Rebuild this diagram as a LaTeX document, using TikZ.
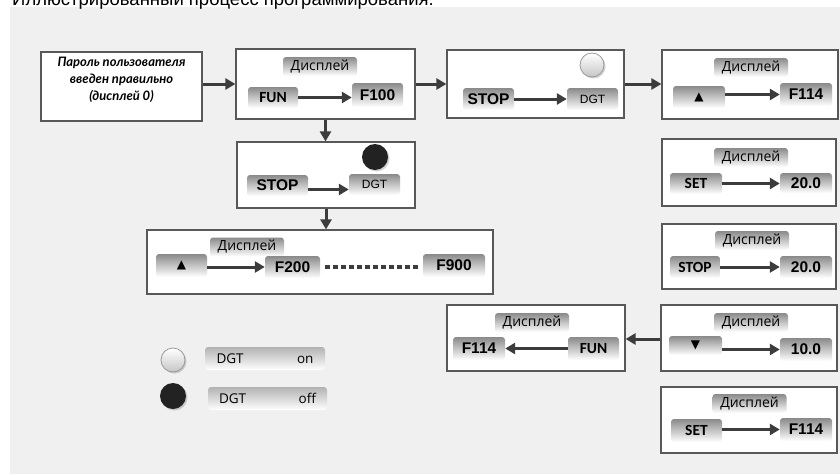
\documentclass[tikz,border=0pt]{standalone}
\usepackage{fontspec}
\setmainfont{Liberation Sans}
\newfontfamily\segoe{Open Sans}
\newfontfamily\calib{Carlito}
\newfontfamily\lato{Lato}
\newfontfamily\symb{DejaVu Sans}
\usetikzlibrary{arrows.meta,shadows}
\definecolor{panel}{HTML}{F0F0F0}
\definecolor{edge}{HTML}{585858}
\definecolor{ink}{HTML}{3C3C3C}
\definecolor{keytop}{HTML}{8A8A8A}
\definecolor{ledoff}{HTML}{222222}

\begin{document}
\begin{tikzpicture}[x=1pt, y=-1pt, >={Triangle[length=10pt,width=11pt]}]
	\tikzstyle{box} = [rectangle, draw=edge, line width=1.2pt, fill=white, inner sep=0pt]
	\tikzstyle{key} = [rectangle, rounded corners=3pt, top color=keytop, bottom color=white, minimum width=51pt, minimum height=22pt, inner sep=0pt, font=\bfseries\fontsize{15.5}{15.5}\selectfont]
	\tikzstyle{dispkey} = [key, minimum width=74pt, minimum height=19pt, font=\segoe\fontsize{14}{14}\selectfont]
	\tikzstyle{btnkey} = [key, font=\calib\bfseries\fontsize{15.5}{15.5}\selectfont]
	\tikzstyle{dgtkey} = [key, font=\fontsize{12}{12}\selectfont]
	\tikzstyle{arrkey} = [key, font=\symb\fontsize{12}{12}\selectfont]
	\tikzstyle{flow} = [->, draw=ink, line width=3pt]
	\tikzstyle{led} = [circle, inner sep=0pt, minimum size=24pt, drop shadow={shadow xshift=1.5pt, shadow yshift=-1.5pt, opacity=0.35}]
	\tikzstyle{ledon} = [led, draw=gray!80, line width=0.8pt, top color=white, bottom color=gray!45]
	\tikzstyle{ledoff} = [led, fill=ledoff, minimum size=26pt]
	\tikzstyle{legkey} = [key, top color=gray!60, minimum width=120pt, minimum height=23pt, text width=97pt, font=\segoe\fontsize{13.5}{13.5}\selectfont]

	% page and panel
	\useasboundingbox (0,0) rectangle (840,474);
	\clip (0,0) rectangle (840,474);
	\fill[white] (0,0) rectangle (840,474);
	\fill[panel] (10,7) rectangle (840,474);
	\node (TITLE) [anchor=base west, inner sep=0pt, font=\fontsize{18.5}{18.5}\selectfont] at (12,5) {Иллюстрированный процесс программирования:};

	% boxes
	\node (PASS) [box, minimum width=161pt, minimum height=69pt] at (121.5,86.5) {};
	\node (PASS_TXT) [align=center, font=\lato\bfseries\itshape\fontsize{13}{17}\selectfont] at (121.5,79.5) {Пароль пользователя\\введен правильно\\(дисплей 0)};
	\node (FUN_BOX) [box, minimum width=179pt, minimum height=70pt] at (325.5,84) {};
	\node (ON_BOX) [box, minimum width=177pt, minimum height=68pt] at (535.5,84) {};
	\node (UP_BOX) [box, minimum width=176pt, minimum height=69pt] at (750,84.5) {};
	\node (OFF_BOX) [box, minimum width=178pt, minimum height=66pt] at (326,175) {};
	\node (RANGE_BOX) [box, minimum width=346pt, minimum height=64pt] at (320,262) {};
	\node (SET_BOX) [box, minimum width=174pt, minimum height=67pt] at (749,172.5) {};
	\node (STOP_BOX) [box, minimum width=174pt, minimum height=65pt] at (749,256.5) {};
	\node (BACK_BOX) [box, minimum width=178pt, minimum height=66pt] at (536,338) {};
	\node (DOWN_BOX) [box, minimum width=176pt, minimum height=66pt] at (749,338) {};
	\node (SAVE_BOX) [box, minimum width=176pt, minimum height=66pt] at (749,420) {};

	% flow between boxes
	\draw[flow] (PASS.east |- FUN_BOX.west) -- (FUN_BOX.west);
	\draw[flow] (FUN_BOX.east) -- (ON_BOX.west);
	\draw[flow] (ON_BOX.east) -- (UP_BOX.west |- ON_BOX.east);
	\draw[flow] (FUN_BOX.south) -- (FUN_BOX.south |- OFF_BOX.north);
	\draw[flow] (OFF_BOX.south) -- (OFF_BOX.south |- RANGE_BOX.north);
	\draw[flow] (DOWN_BOX.west |- 0,339) -- (BACK_BOX.east |- 0,339);

	% display labels
	\foreach \n/\x/\y in {1/320/66.5, 2/751/67.5, 3/247/247, 4/751/157.5, 5/752/240.5, 6/532/322.5, 7/751/322.5, 8/749.5/403.5}
		\node (DISP\n) [dispkey] at (\x,\y) {Дисплей};

	% FUN -> F100
	\node (FUN_A) [btnkey, minimum width=50pt, minimum height=21pt] at (273,97.5) {FUN};
	\node (F100) [key, minimum height=24pt] at (377.5,95) {F100};
	\draw[flow] (FUN_A.east) -- (FUN_A.east -| F100.west);

	% STOP -> DGT, on
	\node (LED_A) [ledon] at (592,65) {};
	\node (STOP_A) [key] at (488.5,99) {STOP};
	\node (DGT_A) [dgtkey] at (592.5,99) {DGT};
	\draw[flow] (STOP_A.east) -- (DGT_A.west);

	% up -> F114
	\node (UP_A) [arrkey, minimum width=52pt] at (699,97) {▲};
	\node (F114_A) [key, minimum width=52pt, minimum height=23pt] at (806,94.5) {F114};
	\draw[flow] (UP_A.east |- F114_A.west) -- (F114_A.west);

	% STOP -> DGT, off
	\node (LED_B) [ledoff] at (375,157) {};
	\node (STOP_B) [key, minimum width=61pt, minimum height=21pt] at (277.5,185.5) {STOP};
	\node (DGT_B) [dgtkey, minimum height=21pt] at (374.5,184.5) {DGT};
	\draw[flow] ([yshift=-4pt]STOP_B.east) -- ([yshift=-4pt]STOP_B.east -| DGT_B.west);

	% up -> F200 ... F900
	\node (UP_B) [arrkey, minimum height=23pt] at (181.5,265.5) {▲};
	\node (F200) [key, minimum width=55pt] at (292.5,267) {F200};
	\node (F900) [key, minimum width=62pt, minimum height=23pt] at (454,265.5) {F900};
	\draw[flow] (UP_B.east |- F200.west) -- (F200.west);
	\draw[ink, line width=3.5pt, dash pattern=on 4.5pt off 3.5pt, shorten <=5pt, shorten >=5pt] (F200.east) -- (F200.east -| F900.west);

	% SET -> 20.0
	\node (SET_A) [btnkey, minimum width=52pt, minimum height=21pt] at (696,183.5) {SET};
	\node (VAL_A) [key, minimum width=52pt, minimum height=20pt] at (806,183) {20.0};
	\draw[flow] (SET_A.east) -- (SET_A.east -| VAL_A.west);

	% STOP -> 20.0
	\node (STOP_C) [btnkey, minimum width=50pt] at (695,267) {STOP};
	\node (VAL_B) [key, minimum width=52pt] at (806,267) {20.0};
	\draw[flow] (STOP_C.east) -- (VAL_B.west);

	% FUN -> F114 (back)
	\node (F114_B) [key, minimum width=52pt, minimum height=23pt] at (479,348.5) {F114};
	\node (FUN_B) [btnkey, minimum height=23pt] at (593.5,348.5) {FUN};
	\draw[flow] (FUN_B.west) -- (F114_B.east);

	% down -> 10.0
	\node (DOWN_A) [arrkey, minimum width=53pt, minimum height=19pt] at (695.5,345.5) {▼};
	\node (VAL_C) [key, minimum width=52pt, minimum height=23pt] at (806,349.5) {10.0};
	\draw[flow] (DOWN_A.east |- VAL_C.west) -- (VAL_C.west);

	% SET -> F114
	\node (SET_B) [btnkey, minimum height=23pt] at (696.5,430.5) {SET};
	\node (F114_C) [key, minimum width=52pt, minimum height=23pt] at (806,429.5) {F114};
	\draw[flow] (SET_B.east |- F114_C.west) -- (F114_C.west);

	% legend
	\node (LEG_LED_ON) [ledon, minimum size=24pt] at (173,360) {};
	\node (LEG_LED_OFF) [ledoff] at (173,396) {};
	\node (LEG_ON) [legkey] at (265,358.5) {DGT\hfill on};
	\node (LEG_OFF) [legkey, minimum width=119pt] at (267.5,398.5) {DGT\hfill off};
\end{tikzpicture}
\end{document}
